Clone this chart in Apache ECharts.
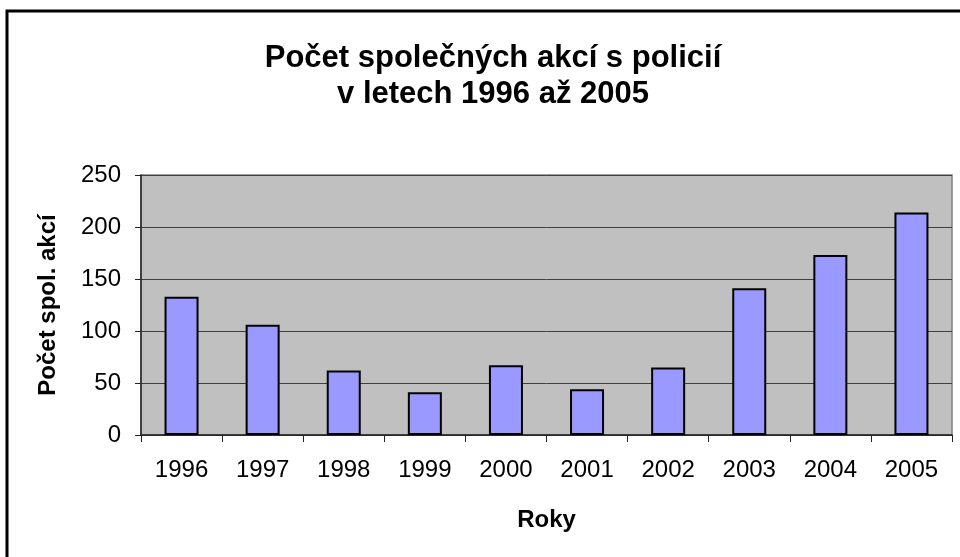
<!DOCTYPE html>
<html>
<head>
<meta charset="utf-8">
<script src="https://cdn.jsdelivr.net/npm/echarts@6/dist/echarts.min.js"></script>
<style>
  html, body { margin: 0; padding: 0; background: #fff; }
  #chart { width: 960px; height: 557px; }
</style>
</head>
<body>
<div id="chart"></div>
<script>
////--------------------------------------------------------------------////
const years   = ['1996', '1997', '1998', '1999', '2000', '2001', '2002', '2003', '2004', '2005'];
const actions = [133, 106, 62, 41, 67, 44, 65, 141, 173, 214];
const y_ticks = [0, 50, 100, 150, 200, 250];
////--------------------------------------------------------------------////
const font = '"Liberation Sans", Arial, sans-serif';

const chart = echarts.init(document.getElementById('chart'), null, {renderer: 'canvas'});

chart.setOption({
    animation: false,
    backgroundColor: '#ffffff',
    textStyle: {fontFamily: font},
    title: {
        text: 'Počet společných akcí s policií\nv letech 1996 až 2005',
        left: 488,
        top: 35,
        textAlign: 'center',
        textStyle: {fontFamily: font, fontSize: 31, fontWeight: 'bold', color: '#000', lineHeight: 36}
    },
    graphic: [{
        type: 'rect',
        shape: {x: 7, y: 11, width: 1000, height: 600},
        style: {fill: null, stroke: '#000', lineWidth: 3},
        silent: true
    }],
    grid: {
        left: 141, right: 8, top: 175, bottom: 122,
        show: true,
        backgroundColor: '#c0c0c0',
        borderColor: '#808080',
        borderWidth: 1.5
    },
    xAxis: {
        type: 'category',
        data: years,
        name: 'Roky',
        nameLocation: 'middle',
        nameGap: 73,
        nameTextStyle: {fontFamily: font, fontSize: 24, fontWeight: 'bold', color: '#000'},
        axisLine: {lineStyle: {color: '#222', width: 1.5}},
        axisTick: {show: true, length: 7, inside: false, lineStyle: {color: '#222'}},
        axisLabel: {fontFamily: font, fontSize: 24, color: '#000', margin: 23}
    },
    yAxis: {
        type: 'value',
        min: y_ticks[0],
        max: y_ticks[y_ticks.length - 1],
        interval: 50,
        name: 'Počet spol. akcí',
        nameLocation: 'middle',
        nameGap: 81,
        nameTextStyle: {fontFamily: font, fontSize: 24, fontWeight: 'bold', color: '#000'},
        axisLine: {show: true, lineStyle: {color: '#222', width: 1.5}},
        axisTick: {show: true, length: 6, inside: false, lineStyle: {color: '#222'}},
        axisLabel: {fontFamily: font, fontSize: 24, color: '#000', margin: 20},
        splitLine: {show: true, lineStyle: {color: '#404040', width: 1}}
    },
    series: [{
        type: 'bar',
        data: actions,
        barWidth: 34,
        itemStyle: {color: '#9999ff', borderColor: '#000', borderWidth: 2}
    }]
});
</script>
</body>
</html>
